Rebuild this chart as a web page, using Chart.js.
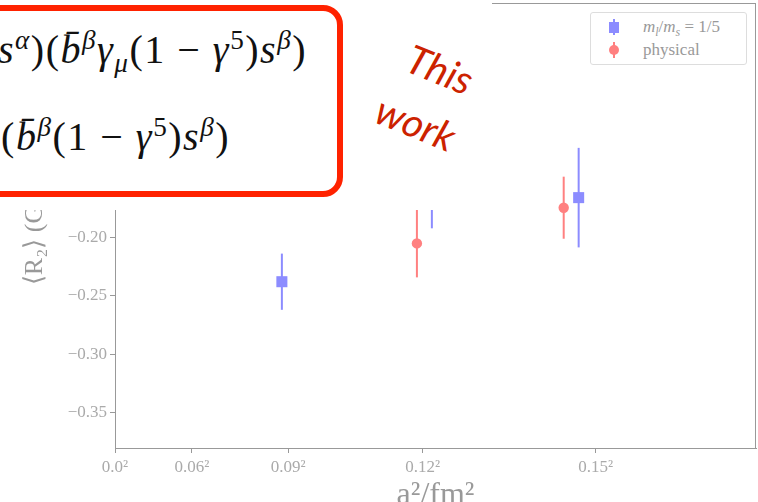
<!DOCTYPE html>
<html>
<head>
<meta charset="utf-8">
<script src="https://cdn.jsdelivr.net/npm/chart.js@4.4.1/dist/chart.umd.min.js"></script>
<style>
  body { margin: 0; width: 758px; height: 502px; overflow: hidden; position: relative; background: #fff; }
  #chart { position: absolute; left: 0; top: 0; }
  #cover { position: absolute; left: 0; top: 0; width: 492px; height: 210px; background: #fff; }
  #box { position: absolute; left: -20px; top: 5px; width: 363px; height: 192px; box-sizing: border-box;
         border: 6px solid #ff2200; border-radius: 20px; background: #fff; }
  .formula { position: absolute; white-space: nowrap; font-family: 'Liberation Serif', serif; font-size: 40px;
             line-height: 44px; letter-spacing: 1.5px; color: #111; }
  .formula i { font-style: italic; }
  .formula sup, .formula sub { font-size: 0.68em; line-height: 0; }
  .hand { position: absolute; font-family: 'Lato', sans-serif; font-style: italic; font-size: 40px; color: #cc2200;
          transform: translate(-50%, -50%) rotate(22deg); white-space: nowrap; }
  #legend { position: absolute; left: 590px; top: 12px; width: 157px; height: 53px; box-sizing: border-box;
            border: 1px solid #ddd; border-radius: 3px; background: #fff; font-family: 'Liberation Serif', serif;
            font-size: 17px; color: #999; }
  .lrow { position: absolute; left: 52px; white-space: nowrap; line-height: 18px; }
  .mk { position: absolute; }
</style>
</head>
<body>
<canvas id="chart" width="758" height="530"></canvas>

<div id="cover">
  <div id="box"></div>
  <div class="formula" style="right: 185px; top: 28px;"><i>O</i><sub>1</sub> = (<i>b&#772;</i><sup><i>α</i></sup><i>γ</i><sup><i>μ</i></sup>(1 − <i>γ</i><sup>5</sup>)<i>s</i><sup><i>α</i></sup>)(<i>b&#772;</i><sup><i>β</i></sup><i>γ</i><sub><i>μ</i></sub>(1 − <i>γ</i><sup>5</sup>)<i>s</i><sup><i>β</i></sup>)</div>
  <div class="formula" style="right: 262px; top: 115px;"><i>O</i><sub>2</sub> = (<i>b&#772;</i><sup><i>α</i></sup>(1 − <i>γ</i><sup>5</sup>)<i>s</i><sup><i>α</i></sup>)(<i>b&#772;</i><sup><i>β</i></sup>(1 − <i>γ</i><sup>5</sup>)<i>s</i><sup><i>β</i></sup>)</div>
  <div class="hand" style="left: 440px; top: 69px;">This</div>
  <div class="hand" style="left: 416px; top: 123px;">work</div>
</div>

<div id="legend">
  <div class="mk" style="left: 22px; top: 6px; width: 2px; height: 16px; background: #8c8cff;"></div>
  <div class="mk" style="left: 18px; top: 9px; width: 10px; height: 11px; background: #8c8cff;"></div>
  <div class="lrow" style="top: 5px;"><i>m<sub style="font-size:0.7em">l</sub></i>/<i>m<sub style="font-size:0.7em">s</sub></i> = 1/5</div>
  <div class="mk" style="left: 22px; top: 29px; width: 2px; height: 16px; background: #ff8080;"></div>
  <div class="mk" style="left: 18px; top: 32px; width: 10px; height: 10px; border-radius: 50%; background: #ff8080;"></div>
  <div class="lrow" style="top: 28px;">physical</div>
</div>

<script>
// a^2 in fm^2, central values and errors
const seriesNames = ['m_l/m_s = 1/5', 'physical'];
const blueX = [0.00781, 0.01483, 0.0217];
const blueY = [-0.238, -0.160, -0.1662];
const blueErr = [0.024, 0.0324, 0.0425];
const redX = [0.01413, 0.0210];
const redY = [-0.2053, -0.1748];
const redErr = [0.029, 0.0265];

const xTickValues = [0, 0.0036, 0.0081, 0.0144, 0.0225];
const xTickLabels = ['0.0²', '0.06²', '0.09²', '0.12²', '0.15²'];
const yTickValues = [-0.35, -0.30, -0.25, -0.20, -0.15, -0.10, -0.05, 0.0];

const seriesErr = [blueErr, redErr];
const gray = '#999';
const tickFont = { family: 'Liberation Serif', size: 17 };

const errorBars = {
    id: 'errorBars',
    beforeDatasetsDraw(chart) {
        const ctx = chart.ctx;
        const xs = chart.scales.x, ys = chart.scales.y;
        chart.data.datasets.forEach((ds, i) => {
            const err = seriesErr[i];
            ctx.save();
            ctx.strokeStyle = ds.borderColor;
            ctx.lineWidth = 2;
            ds.data.forEach((p, j) => {
                const px = xs.getPixelForValue(p.x);
                ctx.beginPath();
                ctx.moveTo(px, ys.getPixelForValue(p.y - err[j]));
                ctx.lineTo(px, ys.getPixelForValue(p.y + err[j]));
                ctx.stroke();
            });
            ctx.restore();
        });
    },
    afterDraw(chart) {
        const a = chart.chartArea;
        const ctx = chart.ctx;
        ctx.save();
        ctx.strokeStyle = gray;
        ctx.lineWidth = 1;
        ctx.strokeRect(a.left + 0.5, a.top + 0.5, a.right - a.left - 1, a.bottom - a.top);
        ctx.restore();
    }
};

function noPad(s) {
    s.paddingTop = 0;
    s.paddingBottom = 0;
    s.paddingLeft = 0;
    s.paddingRight = 0;
}

new Chart(document.getElementById('chart'), {
    type: 'scatter',
    data: {
        datasets: [{
            label: seriesNames[0],
            data: blueX.map((x, i) => ({ x: x, y: blueY[i] })),
            backgroundColor: '#8c8cff',
            borderColor: '#8c8cff',
            borderWidth: 0,
            pointStyle: 'rect',
            pointRadius: 7.8
        }, {
            label: seriesNames[1],
            data: redX.map((x, i) => ({ x: x, y: redY[i] })),
            backgroundColor: '#ff8080',
            borderColor: '#ff8080',
            borderWidth: 0,
            pointStyle: 'circle',
            pointRadius: 5.2
        }]
    },
    options: {
        responsive: false,
        animation: false,
        layout: { autoPadding: false, padding: { top: 3, right: 2, left: 0, bottom: 0 } },
        plugins: { legend: { display: false }, tooltip: { enabled: false } },
        scales: {
            x: {
                type: 'linear',
                min: 0,
                max: 0.03,
                afterBuildTicks: (s) => { s.ticks = xTickValues.map(v => ({ value: v })); },
                afterFit: (s) => { s.height = 82; noPad(s); },
                ticks: {
                    color: '#aaa',
                    font: tickFont,
                    padding: 4,
                    maxRotation: 0,
                    callback: (v) => xTickLabels[xTickValues.indexOf(v)]
                },
                grid: { drawOnChartArea: false, drawTicks: true, tickLength: 5, color: gray },
                border: { display: true, color: gray, width: 1 },
                title: {
                    display: true,
                    text: 'a²/fm²',
                    color: gray,
                    font: { family: 'Liberation Serif', size: 32 },
                    padding: { top: 0, bottom: 15 }
                }
            },
            y: {
                type: 'linear',
                min: -0.38,
                max: 0.0,
                afterBuildTicks: (s) => { s.ticks = yTickValues.map(v => ({ value: v })); },
                afterFit: (s) => { s.width = 115; noPad(s); },
                ticks: {
                    color: '#aaa',
                    font: tickFont,
                    padding: 3,
                    callback: (v) => (v < 0 ? '−' : '') + Math.abs(v).toFixed(2)
                },
                grid: { drawOnChartArea: false, drawTicks: true, tickLength: 5, color: gray },
                border: { display: true, color: gray, width: 1 },
                title: {
                    display: true,
                    text: '⟨R₂⟩ (GeV)',
                    color: gray,
                    font: { family: 'Liberation Serif', size: 26 },
                    padding: { top: 20, bottom: 0 }
                }
            }
        }
    },
    plugins: [errorBars]
});
</script>
</body>
</html>
